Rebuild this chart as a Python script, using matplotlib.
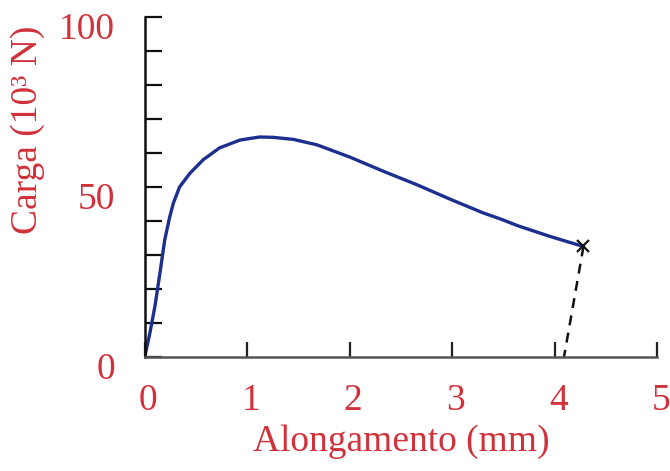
import matplotlib
matplotlib.use("Agg")
import matplotlib.pyplot as plt
from matplotlib.transforms import ScaledTranslation

# Data
elong = [0.0, 0.05, 0.10, 0.15, 0.195, 0.244, 0.28, 0.34, 0.44, 0.57, 0.73, 0.93,
         1.12, 1.25, 1.45, 1.68, 2.00, 2.33, 2.66, 2.98, 3.30, 3.47, 3.64, 3.96, 4.28]
load = [0.0, 7.0, 15.0, 25.0, 34.4, 41.2, 45.3, 50.0, 54.0, 58.0, 61.5, 63.8,
        64.7, 64.6, 64.0, 62.4, 58.8, 54.6, 50.6, 46.4, 42.4, 40.6, 38.6, 35.4, 32.5]
unload_x = [4.28, 4.09]
unload_y = [32.5, 0.0]

xticks = [0, 1, 2, 3, 4, 5]
yticks_major = [0, 50, 100]
yticks_minor = [10, 20, 30, 40, 60, 70, 80, 90]

red = "#d0313a"
plt.rcParams["font.family"] = ["Liberation Serif", "DejaVu Serif"]

fig = plt.figure(figsize=(6.7, 4.71), dpi=100)
ax = fig.add_axes([0.216, 0.242, 0.765, 0.722])

ax.plot(elong, load, color="#1c2f8f", lw=2.4, solid_joinstyle="round",
        solid_capstyle="round")
ax.plot(unload_x, unload_y, color="#111111", lw=1.8, ls=(0, (4, 3)))
ax.plot([unload_x[0]], [unload_y[0]], marker="x", color="#111111", ms=9, mew=1.6)

ax.set_xlim(0, 5)
ax.set_ylim(0, 100)
ax.spines["top"].set_visible(False)
ax.spines["right"].set_visible(False)
ax.spines["left"].set_color("#111111")
ax.spines["left"].set_linewidth(1.8)
ax.spines["bottom"].set_color("#555555")
ax.spines["bottom"].set_linewidth(1.8)

ax.set_xticks(xticks)
ax.set_xticklabels([str(t) for t in xticks])
ax.set_yticks(yticks_major)
ax.set_yticklabels([str(t) for t in yticks_major])
ax.set_yticks(yticks_minor, minor=True)

ax.tick_params(axis="x", direction="in", length=11, width=1.6, color="#222222",
               labelsize=27, labelcolor=red, pad=19)
ax.tick_params(axis="y", which="both", direction="in", length=12, width=1.6,
               color="#111111", labelsize=27, labelcolor=red, pad=21.5)

for lab in ax.get_yticklabels():
    lab.set_transform(lab.get_transform() + ScaledTranslation(0, -6.5 / 72, fig.dpi_scale_trans))
for lab in ax.get_xticklabels():
    lab.set_transform(lab.get_transform() + ScaledTranslation(2.5 / 72, 0, fig.dpi_scale_trans))

ax.set_xlabel("Alongamento (mm)", fontsize=27, color=red, labelpad=5)
fig.text(0.042, 0.725, "Carga (10³ N)", rotation=90, fontsize=27, color=red,
         ha="center", va="center")

fig.savefig("out.png", dpi=100)
